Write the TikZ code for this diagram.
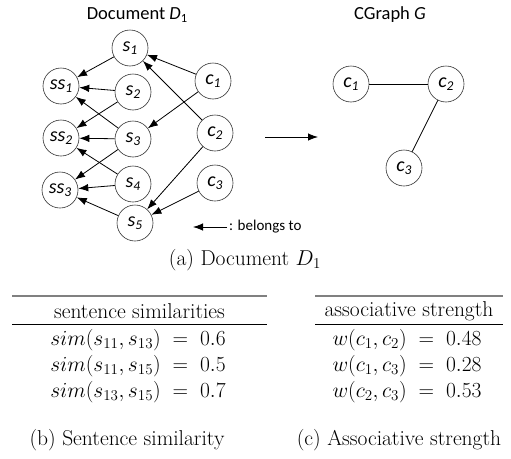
\RequirePackage{fix-cm}
\documentclass[tikz,border=0pt]{standalone}
\usepackage{fontspec}
\newfontfamily\carl{Carlito}
\usetikzlibrary{arrows.meta}
\newcommand\sbs[1]{\raisebox{-0.35ex}{\fontsize{13.5}{14}\selectfont #1}}
\tikzset{
  nd/.style={circle, draw=black!80, line width=0.6pt, minimum size=36pt, inner sep=0pt,
             font=\carl\fontsize{20}{22}\selectfont\itshape},
  arr/.style={-{Latex[length=10pt,width=7.5pt]}, line width=0.8pt},
  gedge/.style={line width=0.7pt},
  ttl/.style={font=\carl\fontsize{18.5}{20}\selectfont},
  lgd/.style={font=\carl\fontsize{15}{17}\selectfont},
  lm/.style={font=\fontsize{21.5}{26}\selectfont},
  toprl/.style={draw=black!50, line width=1.6pt},
  midrl/.style={draw=black, line width=0.8pt},
}
\begin{document}
\begin{tikzpicture}[x=1pt,y=-1pt]
\useasboundingbox (0,0) rectangle (511,458);

% titles
\node[ttl] (t1) at (137,15) {Document \textit{D}\raisebox{-0.35ex}{\fontsize{12.5}{13}\selectfont 1}};
\node[ttl] (t2) at (390,15) {CGraph \textit{G}};

% document nodes
\node[nd] (s1)  at (130,48)  {s\sbs{1}};
\node[nd] (ss1) at (61,86)   {ss\sbs{1}};
\node[nd] (s2)  at (133,92)  {s\sbs{2}};
\node[nd] (c1)  at (213,81)  {c\sbs{1}};
\node[nd] (ss2) at (61,138)  {ss\sbs{2}};
\node[nd] (s3)  at (133,139) {s\sbs{3}};
\node[nd] (c2)  at (215,133) {c\sbs{2}};
\node[nd] (ss3) at (60,190)  {ss\sbs{3}};
\node[nd] (s4)  at (133,184) {s\sbs{4}};
\node[nd] (c3)  at (215,183) {c\sbs{3}};
\node[nd] (s5)  at (135,223) {s\sbs{5}};

% belongs-to arrows
\draw[arr] (s1) -- (ss1);
\draw[arr] (s2) -- (ss1);
\draw[arr] (s3) -- (ss1);
\draw[arr] (s2) -- (ss2);
\draw[arr] (s3) -- (ss2);
\draw[arr] (s4) -- (ss2);
\draw[arr] (s3) -- (ss3);
\draw[arr] (s4) -- (ss3);
\draw[arr] (s5) -- (ss3);
\draw[arr] (c1) -- (s1);
\draw[arr] (c2) -- (s1);
\draw[arr] (c1) -- (s3);
\draw[arr] (c2) -- (s5);
\draw[arr] (c3) -- (s5);

% legend
\coordinate (l1) at (227,227);
\coordinate (l2) at (193,227);
\draw[arr] (l1) -- (l2);
\node[lgd, anchor=west, inner sep=0pt] (lt) at (229,227) {: belongs to};

% big arrow
\coordinate (a1) at (265,137);
\coordinate (a2) at (318,137);
\draw[arr] (a1) -- (a2);

% CGraph
\node[nd] (g1) at (351,84)  {c\sbs{1}};
\node[nd] (g2) at (446,84)  {c\sbs{2}};
\node[nd] (g3) at (404,168) {c\sbs{3}};
\draw[gedge] (g1) -- (g2);
\draw[gedge] (g2) -- (g3);

% caption (a)
\node[lm] (capa) at (245,260) {(a) Document $D_1$};

% table (b)
\coordinate (bt1) at (12,296);  \coordinate (bt2) at (267,296);
\coordinate (bm1) at (12,324);  \coordinate (bm2) at (267,324);
\draw[toprl] (bt1) -- (bt2);
\draw[midrl] (bm1) -- (bm2);
\node[lm] (bh) at (139.5,311) {sentence similarities};
\node[lm] (b1) at (138,340) {$sim(s_{11}, s_{13}) \;=\; 0.6$};
\node[lm] (b2) at (138,366) {$sim(s_{11}, s_{15}) \;=\; 0.5$};
\node[lm] (b3) at (138,392) {$sim(s_{13}, s_{15}) \;=\; 0.7$};

% table (c)
\coordinate (ct1) at (315,296); \coordinate (ct2) at (503,296);
\coordinate (cm1) at (315,324); \coordinate (cm2) at (503,324);
\draw[toprl] (ct1) -- (ct2);
\draw[midrl] (cm1) -- (cm2);
\node[lm] (ch) at (409,311) {associative strength};
\node[lm] (c1r) at (407,340) {$w(c_1, c_2) \;=\; 0.48$};
\node[lm] (c2r) at (407,366) {$w(c_1, c_3) \;=\; 0.28$};
\node[lm] (c3r) at (407,392) {$w(c_2, c_3) \;=\; 0.53$};

% captions (b), (c)
\node[lm] (capb) at (127,440) {(b) Sentence similarity};
\node[lm] (capc) at (399,440) {(c) Associative strength};
\end{tikzpicture}
\end{document}
